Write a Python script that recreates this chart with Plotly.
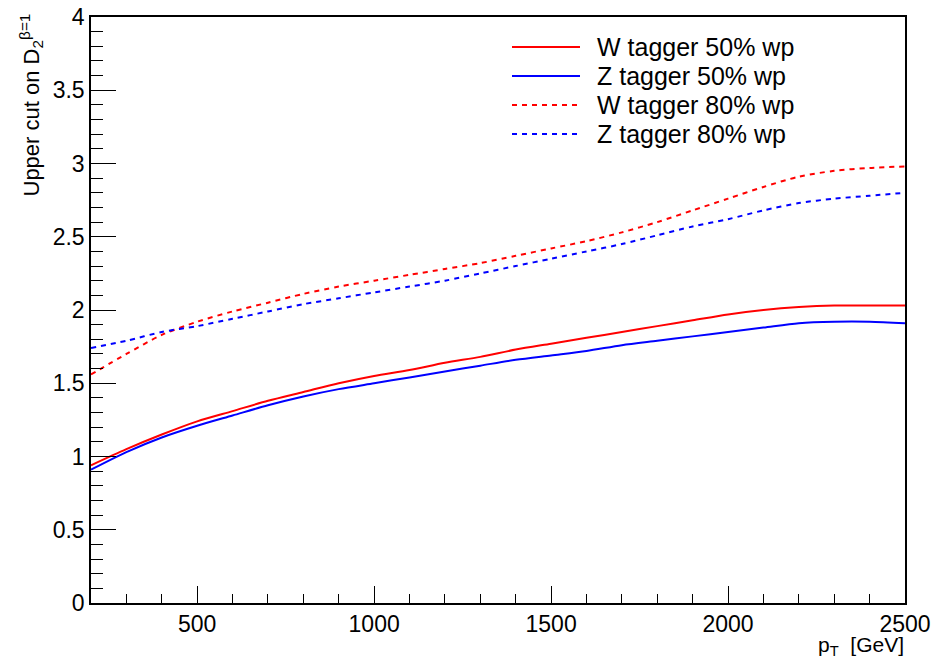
import plotly.graph_objects as go

# ---- data ----
pt = [200, 300, 400, 500, 600, 700, 800, 900, 1000, 1100, 1200, 1300,
      1400, 1500, 1600, 1700, 1800, 1900, 2000, 2100, 2200, 2300, 2400, 2500]

w50 = [0.94, 1.05, 1.15, 1.24, 1.31, 1.38, 1.44, 1.50, 1.55, 1.59, 1.64, 1.68,
       1.73, 1.77, 1.81, 1.85, 1.89, 1.93, 1.97, 2.00, 2.02, 2.03, 2.03, 2.03]
z50 = [0.91, 1.03, 1.13, 1.21, 1.28, 1.35, 1.41, 1.46, 1.50, 1.54, 1.58, 1.62,
       1.66, 1.69, 1.72, 1.76, 1.79, 1.82, 1.85, 1.88, 1.91, 1.92, 1.92, 1.91]
w80 = [1.56, 1.70, 1.83, 1.92, 1.99, 2.05, 2.11, 2.16, 2.20, 2.24, 2.28, 2.32,
       2.37, 2.42, 2.47, 2.53, 2.60, 2.68, 2.76, 2.84, 2.91, 2.95, 2.97, 2.98]
z80 = [1.74, 1.79, 1.85, 1.89, 1.94, 1.99, 2.04, 2.08, 2.12, 2.16, 2.20, 2.25,
       2.30, 2.35, 2.40, 2.45, 2.51, 2.57, 2.62, 2.68, 2.73, 2.76, 2.78, 2.80]

names = ["W tagger 50% wp", "Z tagger 50% wp", "W tagger 80% wp", "Z tagger 80% wp"]
series = [w50, z50, w80, z80]
colors = ["#ff0000", "#0000ff", "#ff0000", "#0000ff"]
dashes = ["solid", "solid", "5px,5px", "5px,5px"]

FONT = "Liberation Sans, Arial, Helvetica, sans-serif"

# ---- geometry (pixels) ----
W, H = 935, 659
ML, MR, MT, MB = 91, 30, 17, 56
PW, PH = W - ML - MR, H - MT - MB

def px2x(px):
    return (px - ML) / PW

def py2y(py):
    return (H - MB - py) / PH

fig = go.Figure()
for name, ys, c, d in zip(names, series, colors, dashes):
    fig.add_trace(go.Scatter(x=pt, y=ys, mode="lines", name=name,
                             line=dict(color=c, width=2, dash=d, shape="spline", smoothing=0.8),
                             showlegend=False))

# custom legend (ROOT-like, long line samples)
shapes = []
annotations = []
rows_py = [47, 76, 105, 134]
for name, c, d, py in zip(names, colors, dashes, rows_py):
    shapes.append(dict(type="line", xref="paper", yref="paper",
                       x0=px2x(512), x1=px2x(580), y0=py2y(py), y1=py2y(py),
                       line=dict(color=c, width=2, dash=d)))
    annotations.append(dict(text=name, xref="paper", yref="paper",
                            x=px2x(595), y=py2y(py), xanchor="left", yanchor="middle",
                            showarrow=False, font=dict(family=FONT, size=25, color="black")))

# axis titles
annotations.append(dict(text="p<sub>T</sub>&nbsp; [GeV]", xref="paper", yref="paper",
                        x=1.0, y=py2y(632), xanchor="right", yanchor="top", borderpad=0,
                        showarrow=False, font=dict(family=FONT, size=21, color="black")))
annotations.append(dict(text="Upper cut on D<sub>2</sub><sup>β=1</sup>", xref="paper", yref="paper",
                        x=px2x(31), y=py2y(12), xanchor="center", yanchor="top",
                        textangle=-90, showarrow=False,
                        font=dict(family=FONT, size=22, color="black")))

axis_common = dict(showgrid=False, zeroline=False, showline=True, linecolor="black",
                   linewidth=1.5, mirror=True, ticks="inside", tickcolor="black",
                   automargin=False,
                   tickwidth=1.2, tickfont=dict(family=FONT, size=23, color="black"))

fig.update_xaxes(range=[200, 2500], tick0=0, dtick=500, ticklen=17,
                 minor=dict(ticks="inside", dtick=100, ticklen=9, tickcolor="black", tickwidth=1.2),
                 **axis_common)
fig.update_yaxes(range=[0, 4], tick0=0, dtick=0.5, ticklen=25,
                 minor=dict(ticks="inside", dtick=0.1, ticklen=12, tickcolor="black", tickwidth=1.2),
                 **axis_common)

fig.update_layout(width=W, height=H, margin=dict(l=ML, r=MR, t=MT, b=MB, autoexpand=False),
                  paper_bgcolor="white", plot_bgcolor="white",
                  shapes=shapes, annotations=annotations, showlegend=False)

fig.write_html("out.html")
